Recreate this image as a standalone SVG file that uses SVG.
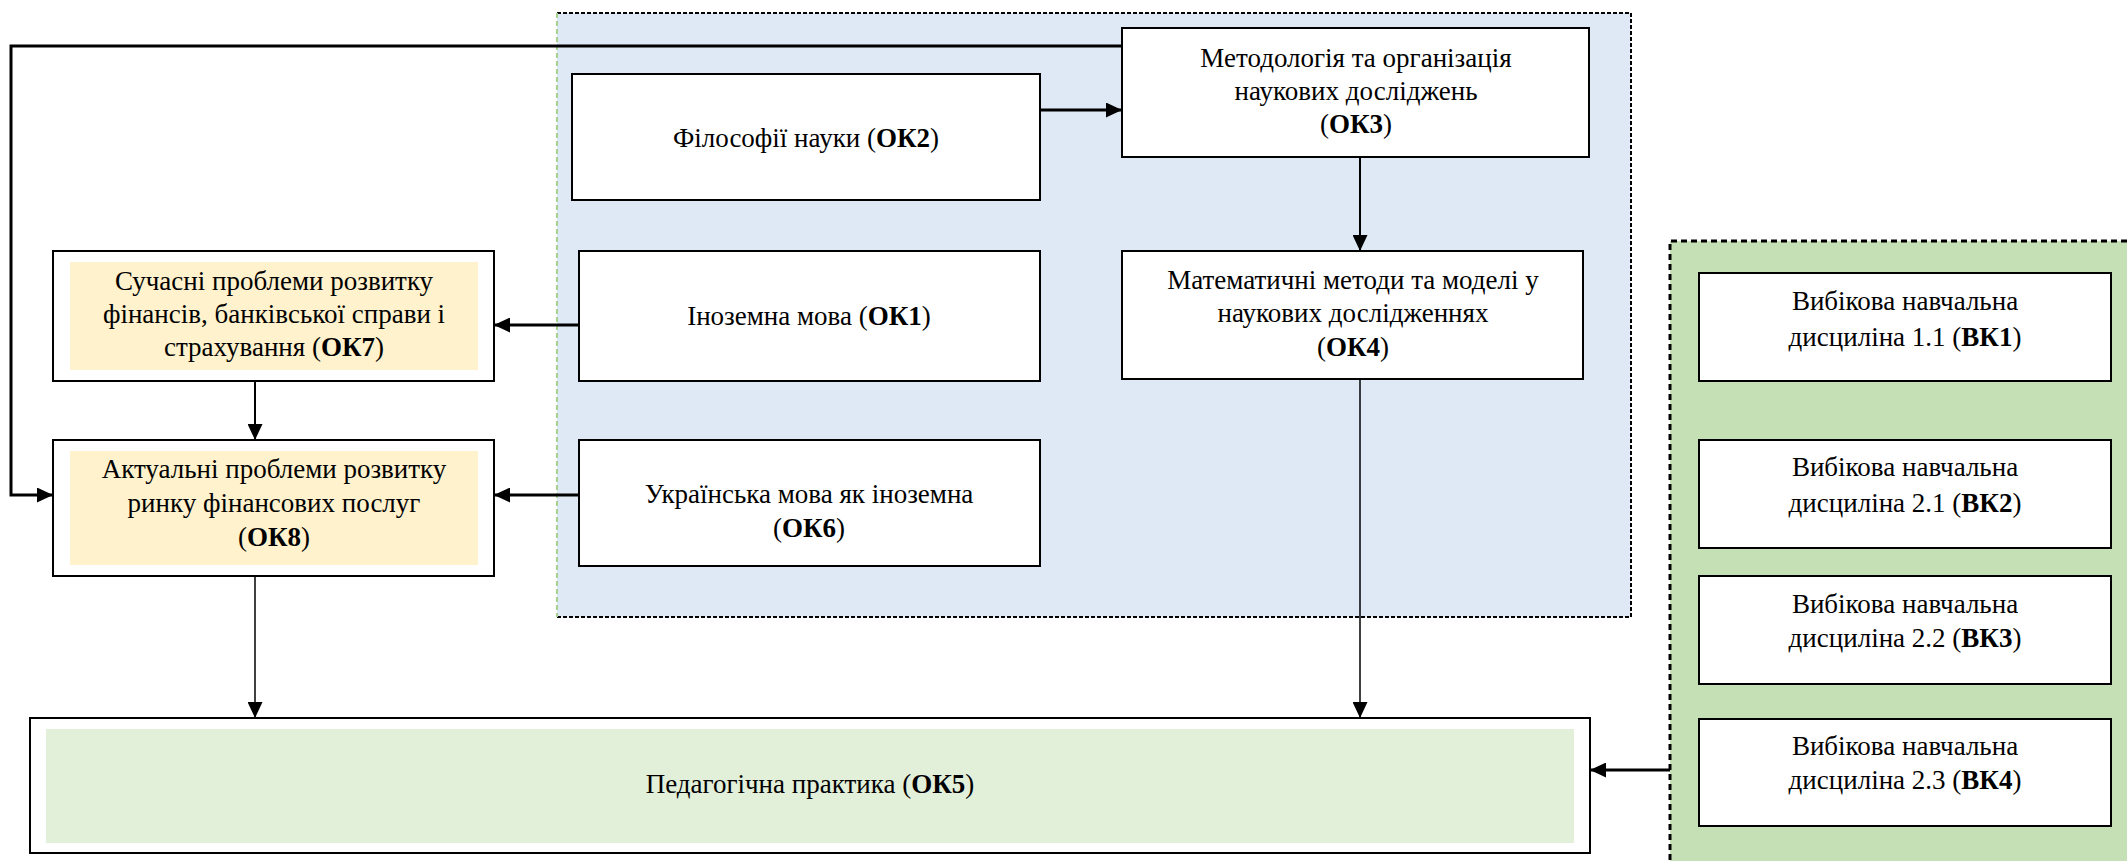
<svg xmlns="http://www.w3.org/2000/svg" width="2127" height="861" viewBox="0 0 2127 861">
<style>
text{font-size:27px;fill:#000;text-anchor:middle}
.b{font-weight:bold}
.box{fill:#fff;stroke:#000;stroke-width:2}
.c{fill:none;stroke:#000}
</style>
<defs>
<marker id="ah" markerUnits="userSpaceOnUse" markerWidth="16" markerHeight="15" refX="16" refY="7.5" orient="auto">
<path d="M0,0 L16,7.5 L0,15 z" fill="#000"/>
</marker>
</defs>
<rect width="2127" height="861" fill="#fff"/>
<g id="panel-blue">
<rect x="557" y="13" width="1074" height="604" fill="#dee9f5"/>
<path d="M557,13 H1631 V617 H557" fill="none" stroke="#000" stroke-width="2" stroke-dasharray="4,2"/>
<path d="M557,13 V617" fill="none" stroke="#a9d18e" stroke-width="2" stroke-dasharray="5,3"/>
</g>
<g id="panel-green">
<rect x="1670" y="241" width="470" height="630" fill="#c5e0b4"/>
<path d="M1670,870 V241 H2130" fill="none" stroke="#000" stroke-width="3" stroke-dasharray="6,4"/>
</g>
<g id="connectors">
<path class="c" stroke-width="3" d="M1122,46 H11 V495 H53" marker-end="url(#ah)"/>
<path class="c" stroke-width="3" d="M1040,110 H1122" marker-end="url(#ah)"/>
<path class="c" stroke-width="2" d="M1360,157 V251" marker-end="url(#ah)"/>
<path class="c" stroke-width="3" d="M579,325 H494" marker-end="url(#ah)"/>
<path class="c" stroke-width="3" d="M579,495 H494" marker-end="url(#ah)"/>
<path class="c" stroke-width="2" d="M255,381 V440" marker-end="url(#ah)"/>
<path class="c" stroke-width="1.5" d="M255,576 V718" marker-end="url(#ah)"/>
<path class="c" stroke-width="1.5" d="M1360,379 V718" marker-end="url(#ah)"/>
<path class="c" stroke-width="3" d="M1670,770 H1590" marker-end="url(#ah)"/>
</g>
<g font-family="'Liberation Serif', 'DejaVu Serif', serif">
<g id="ok2">
<rect class="box" x="572" y="74" width="468" height="126"/>
<text x="806" y="147">Філософії науки (<tspan class="b">ОК2</tspan>)</text>
</g>
<g id="ok3">
<rect class="box" x="1122" y="28" width="467" height="129"/>
<text x="1356" y="67">Методологія та організація</text>
<text x="1356" y="100">наукових досліджень</text>
<text x="1356" y="133">(<tspan class="b">ОК3</tspan>)</text>
</g>
<g id="ok1">
<rect class="box" x="579" y="251" width="461" height="130"/>
<text x="809" y="325">Іноземна мова (<tspan class="b">ОК1</tspan>)</text>
</g>
<g id="ok4">
<rect class="box" x="1122" y="251" width="461" height="128"/>
<text x="1353" y="289">Математичні методи та моделі у</text>
<text x="1353" y="322">наукових дослідженнях</text>
<text x="1353" y="356">(<tspan class="b">ОК4</tspan>)</text>
</g>
<g id="ok6">
<rect class="box" x="579" y="440" width="461" height="126"/>
<text x="809" y="503">Українська мова як іноземна</text>
<text x="809" y="537">(<tspan class="b">ОК6</tspan>)</text>
</g>
<g id="ok7">
<rect class="box" x="53" y="251" width="441" height="130"/>
<rect x="70" y="262" width="408" height="108" fill="#fff2cc"/>
<text x="274" y="290">Сучасні проблеми розвитку</text>
<text x="274" y="323">фінансів, банківської справи і</text>
<text x="274" y="356">страхування (<tspan class="b">ОК7</tspan>)</text>
</g>
<g id="ok8">
<rect class="box" x="53" y="440" width="441" height="136"/>
<rect x="70" y="451" width="408" height="114" fill="#fff2cc"/>
<text x="274" y="478">Актуальні проблеми розвитку</text>
<text x="274" y="512">ринку фінансових послуг</text>
<text x="274" y="546">(<tspan class="b">ОК8</tspan>)</text>
</g>
<g id="ok5">
<rect class="box" x="30" y="718" width="1560" height="135"/>
<rect x="46" y="729" width="1528" height="114" fill="#e2efd9"/>
<text x="810" y="793">Педагогічна практика (<tspan class="b">ОК5</tspan>)</text>
</g>
<g id="vk1">
<rect class="box" x="1699" y="273" width="412" height="108"/>
<text x="1905" y="310">Вибікова навчальна</text>
<text x="1905" y="346">дисциліна 1.1 (<tspan class="b">ВК1</tspan>)</text>
</g>
<g id="vk2">
<rect class="box" x="1699" y="440" width="412" height="108"/>
<text x="1905" y="476">Вибікова навчальна</text>
<text x="1905" y="512">дисциліна 2.1 (<tspan class="b">ВК2</tspan>)</text>
</g>
<g id="vk3">
<rect class="box" x="1699" y="576" width="412" height="108"/>
<text x="1905" y="613">Вибікова навчальна</text>
<text x="1905" y="647">дисциліна 2.2 (<tspan class="b">ВК3</tspan>)</text>
</g>
<g id="vk4">
<rect class="box" x="1699" y="719" width="412" height="107"/>
<text x="1905" y="755">Вибікова навчальна</text>
<text x="1905" y="789">дисциліна 2.3 (<tspan class="b">ВК4</tspan>)</text>
</g>
</g>
</svg>
